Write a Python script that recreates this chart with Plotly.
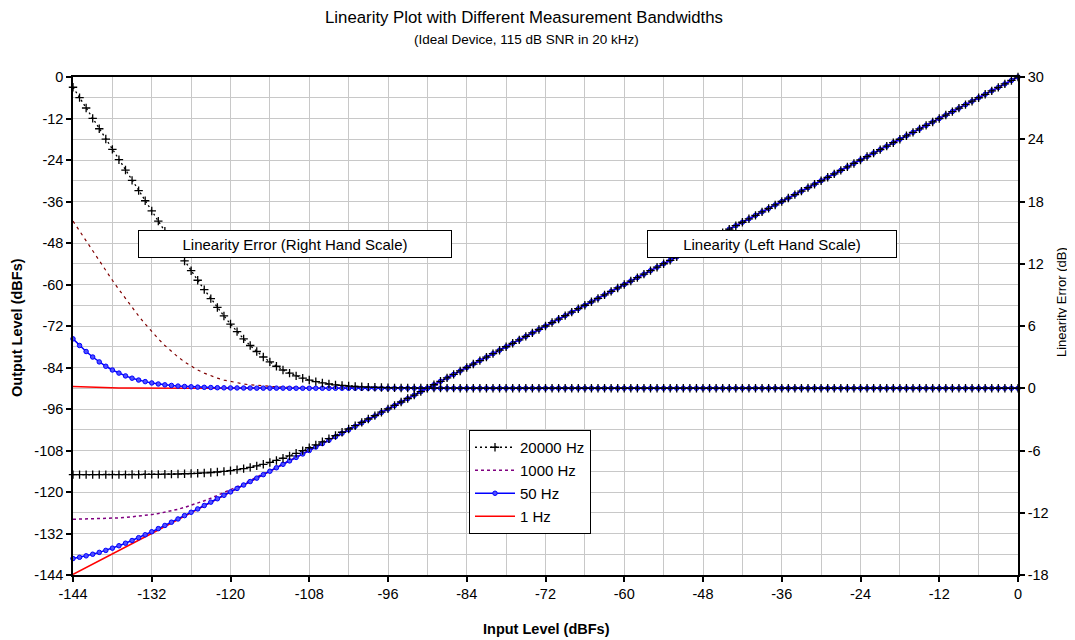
import plotly.graph_objects as go

# ---------------- data ----------------
input_level = [
    -144, -143, -142, -141, -140, -139, -138, -137, -136, -135, -134, -133,
    -132, -131, -130, -129, -128, -127, -126, -125, -124, -123, -122, -121,
    -120, -119, -118, -117, -116, -115, -114, -113, -112, -111, -110, -109,
    -108, -107, -106, -105, -104, -103, -102, -101, -100, -99, -98, -97,
    -96, -95, -94, -93, -92, -91, -90, -89, -88, -87, -86, -85,
    -84, -83, -82, -81, -80, -79, -78, -77, -76, -75, -74, -73,
    -72, -71, -70, -69, -68, -67, -66, -65, -64, -63, -62, -61,
    -60, -59, -58, -57, -56, -55, -54, -53, -52, -51, -50, -49,
    -48, -47, -46, -45, -44, -43, -42, -41, -40, -39, -38, -37,
    -36, -35, -34, -33, -32, -31, -30, -29, -28, -27, -26, -25,
    -24, -23, -22, -21, -20, -19, -18, -17, -16, -15, -14, -13,
    -12, -11, -10, -9, -8, -7, -6, -5, -4, -3, -2, -1,
    0,
]

# Output level (left scale), dBFs
output_20000hz = [
    -114.99, -114.99, -114.99, -114.99, -114.99, -114.98, -114.98, -114.97, -114.97, -114.96, -114.95, -114.93,
    -114.91, -114.89, -114.86, -114.83, -114.79, -114.73, -114.67, -114.59, -114.49, -114.36, -114.21, -114.03,
    -113.81, -113.54, -113.24, -112.88, -112.46, -111.99, -111.46, -110.88, -110.24, -109.54, -108.81, -108.03,
    -107.21, -106.36, -105.49, -104.59, -103.67, -102.73, -101.79, -100.83, -99.86, -98.89, -97.91, -96.93,
    -95.95, -94.96, -93.97, -92.97, -91.98, -90.98, -89.99, -88.99, -87.99, -86.99, -85.99, -85,
    -84, -83, -82, -81, -80, -79, -78, -77, -76, -75, -74, -73,
    -72, -71, -70, -69, -68, -67, -66, -65, -64, -63, -62, -61,
    -60, -59, -58, -57, -56, -55, -54, -53, -52, -51, -50, -49,
    -48, -47, -46, -45, -44, -43, -42, -41, -40, -39, -38, -37,
    -36, -35, -34, -33, -32, -31, -30, -29, -28, -27, -26, -25,
    -24, -23, -22, -21, -20, -19, -18, -17, -16, -15, -14, -13,
    -12, -11, -10, -9, -8, -7, -6, -5, -4, -3, -2, -1,
    0,
]
output_1000hz = [
    -127.89, -127.86, -127.83, -127.79, -127.73, -127.67, -127.59, -127.49, -127.36, -127.21, -127.03, -126.81,
    -126.54, -126.24, -125.88, -125.46, -124.99, -124.46, -123.88, -123.24, -122.54, -121.81, -121.03, -120.21,
    -119.36, -118.49, -117.59, -116.67, -115.73, -114.79, -113.83, -112.86, -111.89, -110.91, -109.93, -108.95,
    -107.96, -106.97, -105.97, -104.98, -103.98, -102.99, -101.99, -100.99, -99.99, -98.99, -98, -97,
    -96, -95, -94, -93, -92, -91, -90, -89, -88, -87, -86, -85,
    -84, -83, -82, -81, -80, -79, -78, -77, -76, -75, -74, -73,
    -72, -71, -70, -69, -68, -67, -66, -65, -64, -63, -62, -61,
    -60, -59, -58, -57, -56, -55, -54, -53, -52, -51, -50, -49,
    -48, -47, -46, -45, -44, -43, -42, -41, -40, -39, -38, -37,
    -36, -35, -34, -33, -32, -31, -30, -29, -28, -27, -26, -25,
    -24, -23, -22, -21, -20, -19, -18, -17, -16, -15, -14, -13,
    -12, -11, -10, -9, -8, -7, -6, -5, -4, -3, -2, -1,
    0,
]
output_50hz = [
    -139.24, -138.88, -138.46, -137.99, -137.46, -136.88, -136.24, -135.54, -134.81, -134.03, -133.21, -132.36,
    -131.49, -130.59, -129.67, -128.73, -127.79, -126.83, -125.86, -124.89, -123.91, -122.93, -121.95, -120.96,
    -119.97, -118.97, -117.98, -116.98, -115.99, -114.99, -113.99, -112.99, -111.99, -111, -110, -109,
    -108, -107, -106, -105, -104, -103, -102, -101, -100, -99, -98, -97,
    -96, -95, -94, -93, -92, -91, -90, -89, -88, -87, -86, -85,
    -84, -83, -82, -81, -80, -79, -78, -77, -76, -75, -74, -73,
    -72, -71, -70, -69, -68, -67, -66, -65, -64, -63, -62, -61,
    -60, -59, -58, -57, -56, -55, -54, -53, -52, -51, -50, -49,
    -48, -47, -46, -45, -44, -43, -42, -41, -40, -39, -38, -37,
    -36, -35, -34, -33, -32, -31, -30, -29, -28, -27, -26, -25,
    -24, -23, -22, -21, -20, -19, -18, -17, -16, -15, -14, -13,
    -12, -11, -10, -9, -8, -7, -6, -5, -4, -3, -2, -1,
    0,
]
output_1hz = [
    -143.83, -142.86, -141.89, -140.91, -139.93, -138.95, -137.96, -136.97, -135.97, -134.98, -133.98, -132.99,
    -131.99, -130.99, -129.99, -128.99, -128, -127, -126, -125, -124, -123, -122, -121,
    -120, -119, -118, -117, -116, -115, -114, -113, -112, -111, -110, -109,
    -108, -107, -106, -105, -104, -103, -102, -101, -100, -99, -98, -97,
    -96, -95, -94, -93, -92, -91, -90, -89, -88, -87, -86, -85,
    -84, -83, -82, -81, -80, -79, -78, -77, -76, -75, -74, -73,
    -72, -71, -70, -69, -68, -67, -66, -65, -64, -63, -62, -61,
    -60, -59, -58, -57, -56, -55, -54, -53, -52, -51, -50, -49,
    -48, -47, -46, -45, -44, -43, -42, -41, -40, -39, -38, -37,
    -36, -35, -34, -33, -32, -31, -30, -29, -28, -27, -26, -25,
    -24, -23, -22, -21, -20, -19, -18, -17, -16, -15, -14, -13,
    -12, -11, -10, -9, -8, -7, -6, -5, -4, -3, -2, -1,
    0,
]

# Linearity error (right scale), dB
error_20000hz = [
    29.01, 28.01, 27.01, 26.01, 25.01, 24.02, 23.02, 22.03, 21.03, 20.04, 19.05, 18.07,
    17.09, 16.11, 15.14, 14.17, 13.21, 12.27, 11.33, 10.41, 9.51, 8.64, 7.79, 6.97,
    6.19, 5.46, 4.76, 4.12, 3.54, 3.01, 2.54, 2.12, 1.76, 1.46, 1.19, 0.97,
    0.79, 0.64, 0.51, 0.41, 0.33, 0.27, 0.21, 0.17, 0.14, 0.11, 0.09, 0.07,
    0.05, 0.04, 0.03, 0.03, 0.02, 0.02, 0.01, 0.01, 0.01, 0.01, 0.01, 0,
    0, 0, 0, 0, 0, 0, 0, 0, 0, 0, 0, 0,
    0, 0, 0, 0, 0, 0, 0, 0, 0, 0, 0, 0,
    0, 0, 0, 0, 0, 0, 0, 0, 0, 0, 0, 0,
    0, 0, 0, 0, 0, 0, 0, 0, 0, 0, 0, 0,
    0, 0, 0, 0, 0, 0, 0, 0, 0, 0, 0, 0,
    0, 0, 0, 0, 0, 0, 0, 0, 0, 0, 0, 0,
    0, 0, 0, 0, 0, 0, 0, 0, 0, 0, 0, 0,
    0,
]
error_1000hz = [
    16.11, 15.14, 14.17, 13.21, 12.27, 11.33, 10.41, 9.51, 8.64, 7.79, 6.97, 6.19,
    5.46, 4.76, 4.12, 3.54, 3.01, 2.54, 2.12, 1.76, 1.46, 1.19, 0.97, 0.79,
    0.64, 0.51, 0.41, 0.33, 0.27, 0.21, 0.17, 0.14, 0.11, 0.09, 0.07, 0.05,
    0.04, 0.03, 0.03, 0.02, 0.02, 0.01, 0.01, 0.01, 0.01, 0.01, 0, 0,
    0, 0, 0, 0, 0, 0, 0, 0, 0, 0, 0, 0,
    0, 0, 0, 0, 0, 0, 0, 0, 0, 0, 0, 0,
    0, 0, 0, 0, 0, 0, 0, 0, 0, 0, 0, 0,
    0, 0, 0, 0, 0, 0, 0, 0, 0, 0, 0, 0,
    0, 0, 0, 0, 0, 0, 0, 0, 0, 0, 0, 0,
    0, 0, 0, 0, 0, 0, 0, 0, 0, 0, 0, 0,
    0, 0, 0, 0, 0, 0, 0, 0, 0, 0, 0, 0,
    0, 0, 0, 0, 0, 0, 0, 0, 0, 0, 0, 0,
    0,
]
error_50hz = [
    4.76, 4.12, 3.54, 3.01, 2.54, 2.12, 1.76, 1.46, 1.19, 0.97, 0.79, 0.64,
    0.51, 0.41, 0.33, 0.27, 0.21, 0.17, 0.14, 0.11, 0.09, 0.07, 0.05, 0.04,
    0.03, 0.03, 0.02, 0.02, 0.01, 0.01, 0.01, 0.01, 0.01, 0, 0, 0,
    0, 0, 0, 0, 0, 0, 0, 0, 0, 0, 0, 0,
    0, 0, 0, 0, 0, 0, 0, 0, 0, 0, 0, 0,
    0, 0, 0, 0, 0, 0, 0, 0, 0, 0, 0, 0,
    0, 0, 0, 0, 0, 0, 0, 0, 0, 0, 0, 0,
    0, 0, 0, 0, 0, 0, 0, 0, 0, 0, 0, 0,
    0, 0, 0, 0, 0, 0, 0, 0, 0, 0, 0, 0,
    0, 0, 0, 0, 0, 0, 0, 0, 0, 0, 0, 0,
    0, 0, 0, 0, 0, 0, 0, 0, 0, 0, 0, 0,
    0, 0, 0, 0, 0, 0, 0, 0, 0, 0, 0, 0,
    0,
]
error_1hz = [
    0.17, 0.14, 0.11, 0.09, 0.07, 0.05, 0.04, 0.03, 0.03, 0.02, 0.02, 0.01,
    0.01, 0.01, 0.01, 0.01, 0, 0, 0, 0, 0, 0, 0, 0,
    0, 0, 0, 0, 0, 0, 0, 0, 0, 0, 0, 0,
    0, 0, 0, 0, 0, 0, 0, 0, 0, 0, 0, 0,
    0, 0, 0, 0, 0, 0, 0, 0, 0, 0, 0, 0,
    0, 0, 0, 0, 0, 0, 0, 0, 0, 0, 0, 0,
    0, 0, 0, 0, 0, 0, 0, 0, 0, 0, 0, 0,
    0, 0, 0, 0, 0, 0, 0, 0, 0, 0, 0, 0,
    0, 0, 0, 0, 0, 0, 0, 0, 0, 0, 0, 0,
    0, 0, 0, 0, 0, 0, 0, 0, 0, 0, 0, 0,
    0, 0, 0, 0, 0, 0, 0, 0, 0, 0, 0, 0,
    0, 0, 0, 0, 0, 0, 0, 0, 0, 0, 0, 0,
    0,
]

# tick values and labels (labels use a plain hyphen, as in the chart)
level_ticks = [-144, -132, -120, -108, -96, -84, -72, -60, -48, -36, -24, -12, 0]
level_tick_labels = ["-144", "-132", "-120", "-108", "-96", "-84", "-72", "-60",
                     "-48", "-36", "-24", "-12", "0"]
error_ticks = [-18, -12, -6, 0, 6, 12, 18, 24, 30]
error_tick_labels = ["-18", "-12", "-6", "0", "6", "12", "18", "24", "30"]

# ---------------- figure ----------------
FONT = "Liberation Sans, Arial, sans-serif"
fig = go.Figure()

style_20000 = dict(mode="lines+markers",
                   line=dict(color="black", width=1.3, dash="2px,3px"),
                   marker=dict(symbol="cross-thin", size=6, color="black",
                               line=dict(color="black", width=1.3)))
style_1000_out = dict(mode="lines", line=dict(color="#800080", width=1.5, dash="3px,3px"))
style_1000_err = dict(mode="lines", line=dict(color="#800000", width=1.2, dash="3px,4px"))
style_50 = dict(mode="lines+markers",
                line=dict(color="#0000FF", width=1.5),
                marker=dict(symbol="circle", size=4.5, color="#5050FF",
                            line=dict(color="#0000FF", width=1)))
style_1 = dict(mode="lines", line=dict(color="#FF0000", width=1.5))

# 1 Hz
fig.add_trace(go.Scatter(x=input_level, y=output_1hz, name="1 Hz", legendgroup="d",
                         legendrank=4, cliponaxis=False, **style_1))
fig.add_trace(go.Scatter(x=input_level, y=error_1hz, yaxis="y2", showlegend=False,
                         cliponaxis=False, **style_1))
# 1000 Hz
fig.add_trace(go.Scatter(x=input_level, y=output_1000hz, name="1000 Hz", legendgroup="b",
                         legendrank=2, cliponaxis=False, **style_1000_out))
fig.add_trace(go.Scatter(x=input_level, y=error_1000hz, yaxis="y2", showlegend=False,
                         cliponaxis=False, **style_1000_err))
# 50 Hz
fig.add_trace(go.Scatter(x=input_level, y=output_50hz, name="50 Hz", legendgroup="c",
                         legendrank=3, cliponaxis=False, **style_50))
fig.add_trace(go.Scatter(x=input_level, y=error_50hz, yaxis="y2", showlegend=False,
                         cliponaxis=False, **style_50))
# 20000 Hz
fig.add_trace(go.Scatter(x=input_level, y=output_20000hz, name="20000 Hz", legendgroup="a",
                         legendrank=1, cliponaxis=False, **style_20000))
fig.add_trace(go.Scatter(x=input_level, y=error_20000hz, yaxis="y2", showlegend=False,
                         cliponaxis=False, **style_20000))

# page offset of the figure (body margin)
OFF = 8
W, H = 1067, 632
L, T = 73 - OFF, 77 - OFF
R = W - (1018 - OFF)
B = H - (575 - OFF)
pw, ph = W - L - R, H - T - B


def px(xp):
    return (xp - OFF - L) / pw


def py(yp):
    return (H - B - (yp - OFF)) / ph


grid = "#C8C8C8"
fig.update_layout(
    width=W, height=H,
    margin=dict(l=L, r=R, t=T, b=B, pad=0),
    paper_bgcolor="white", plot_bgcolor="white",
    font=dict(family=FONT, size=14, color="black"),
    xaxis=dict(range=[-144, 0], tickvals=level_ticks, ticktext=level_tick_labels,
               ticks="outside", ticklen=5, tickwidth=1.5, tickcolor="black",
               showline=True, linecolor="black", linewidth=1.5, mirror=True,
               showgrid=True, gridcolor=grid, gridwidth=1, zeroline=False,
               minor=dict(dtick=6, tick0=0, showgrid=True, gridcolor=grid, gridwidth=1),
               tickfont=dict(size=14.5)),
    yaxis=dict(range=[-144, 0], tickvals=level_ticks, ticktext=level_tick_labels,
               ticks="outside", ticklen=5, tickwidth=1.5, tickcolor="black",
               showline=True, linecolor="black", linewidth=1.5,
               showgrid=True, gridcolor=grid, gridwidth=1, zeroline=False,
               minor=dict(dtick=6, tick0=0, showgrid=True, gridcolor=grid, gridwidth=1),
               tickfont=dict(size=14.5)),
    yaxis2=dict(range=[-18, 30], tickvals=error_ticks, ticktext=error_tick_labels,
                overlaying="y", side="right",
                ticks="outside", ticklen=5, tickwidth=1.5, tickcolor="black",
                showline=True, linecolor="black", linewidth=1.5,
                showgrid=False, zeroline=False, tickfont=dict(size=14.5)),
    showlegend=True,
    legend=dict(x=px(469), y=py(430), xanchor="left", yanchor="top",
                bgcolor="white", bordercolor="black", borderwidth=1,
                font=dict(size=15), traceorder="grouped", tracegroupgap=0.5,
                itemwidth=40),
)

annotations = [
    dict(text="Linearity Plot with Different Measurement Bandwidths",
         x=px(524), y=py(17), font=dict(size=16.8)),
    dict(text="(Ideal Device, 115 dB SNR in 20 kHz)",
         x=px(526), y=py(40), font=dict(size=13.5)),
    dict(text="<b>Input Level (dBFs)</b>", x=px(546), y=py(629), font=dict(size=14.5)),
    dict(text="<b>Output Level (dBFs)</b>", x=px(17), y=py(328), textangle=-90,
         font=dict(size=14.5)),
    dict(text="Linearity Error (dB)", x=px(1061), y=py(302), textangle=-90,
         font=dict(size=13)),
    dict(text="Linearity Error (Right Hand Scale)", x=px(295), y=py(244),
         width=310, height=24, bgcolor="white", bordercolor="black", borderwidth=1,
         borderpad=1, font=dict(size=15)),
    dict(text="Linearity (Left Hand Scale)", x=px(772), y=py(244),
         width=246, height=24, bgcolor="white", bordercolor="black", borderwidth=1,
         borderpad=1, font=dict(size=15)),
]
for a in annotations:
    a.update(xref="paper", yref="paper", xanchor="center", yanchor="middle",
             showarrow=False)
fig.update_layout(annotations=annotations)

fig.write_html("out.html")
